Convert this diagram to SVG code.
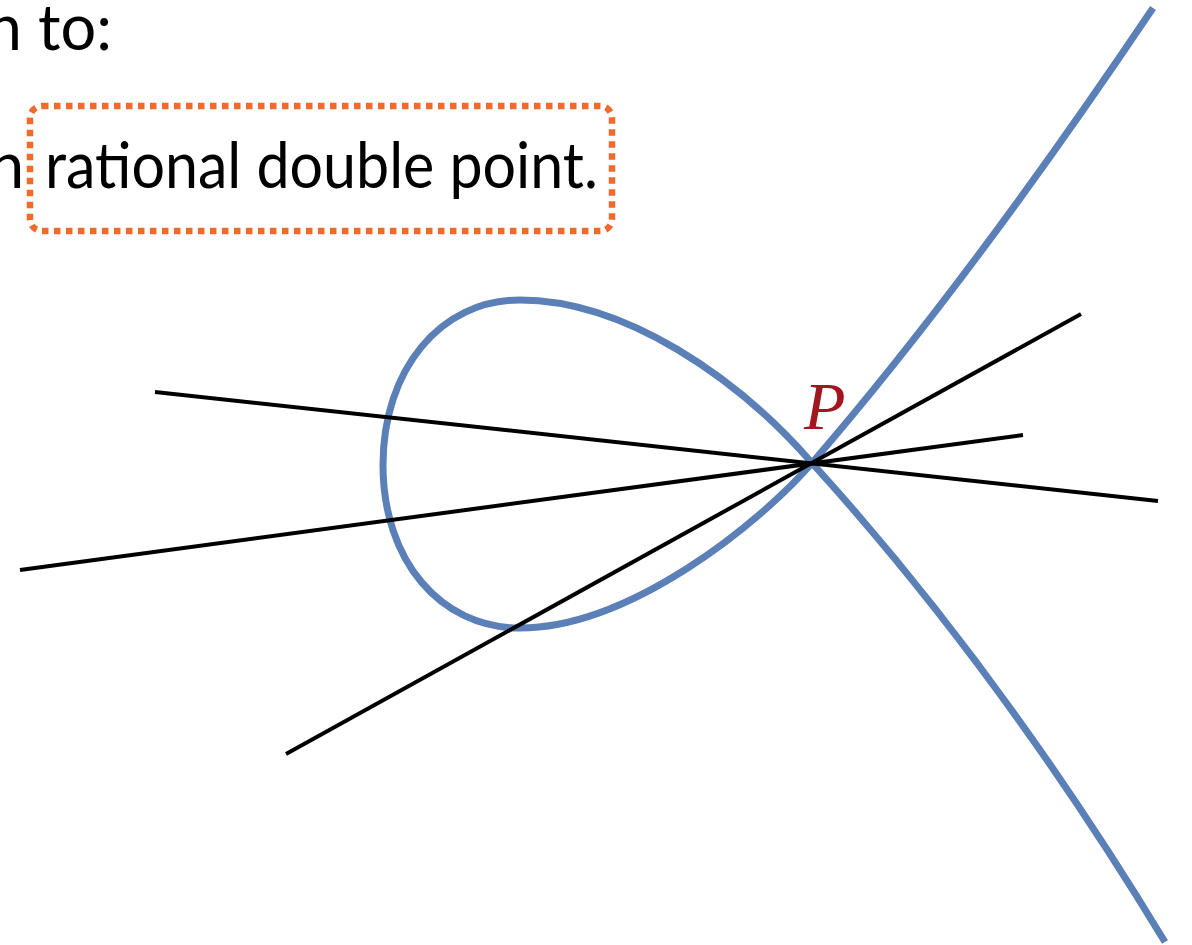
<svg xmlns="http://www.w3.org/2000/svg" width="1192" height="945" viewBox="0 0 1192 945">
<style>
.txt{font-family:Lato,"Open Sans","Liberation Sans",sans-serif;font-size:63px;fill:#000}
.line{stroke:#000;stroke-width:4;fill:none;stroke-linecap:butt}
.curve{stroke:#5b80b8;stroke-width:7;fill:none;stroke-linejoin:round}
</style>
<rect width="1192" height="945" fill="#fff"/>
<g id="text-top">
<text class="txt" x="112" y="50" text-anchor="end">n to:</text>
</g>
<g id="text-line2">
<text class="txt" x="-11" y="188">n</text>
<text class="txt" x="45" y="188" textLength="553" lengthAdjust="spacingAndGlyphs">rational double point.</text>
</g>
<g id="highlight-box">
<rect x="30" y="106" width="582" height="125" rx="12" fill="none" stroke="#ef6b2d" stroke-width="6.5" stroke-dasharray="6.5 5.5"/>
</g>
<g id="curve">
<path class="curve" d="M1153,8 Q970,280 812,463 C760,523 630,628 520,628 C440,628 383,560 383,465 C383,370 440,300 520,300 C625,300 738,378 812,463 Q1000,670 1165,942"/>
</g>
<g id="connectors">
<line class="line" x1="155" y1="392" x2="1158" y2="501"/>
<line class="line" x1="20" y1="570" x2="1023" y2="435"/>
<line class="line" x1="286" y1="754" x2="1081" y2="314"/>
</g>
<g id="label-P">
<text x="804" y="429" font-family="'Liberation Serif',serif" font-style="italic" font-size="68" fill="#a3161f">P</text>
</g>
</svg>
